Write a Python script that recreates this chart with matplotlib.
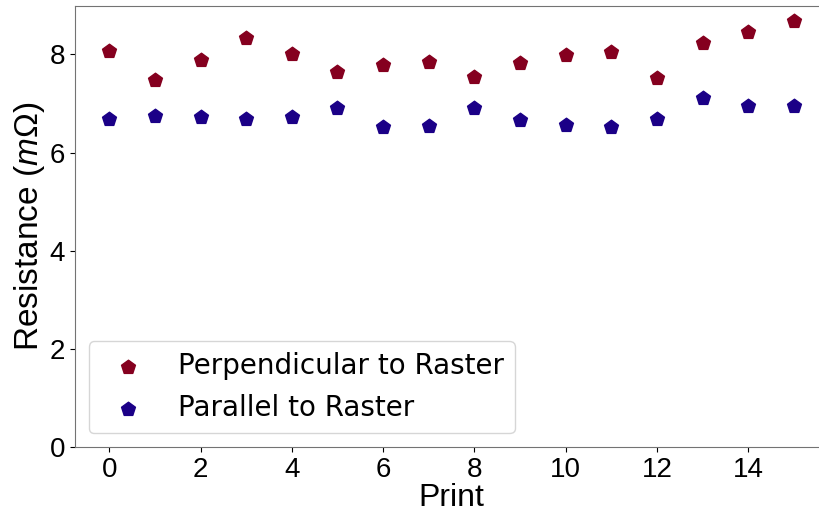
import numpy as np
import matplotlib
matplotlib.use("Agg")
import matplotlib.pyplot as plt

plt.rcParams['font.family'] = ['Liberation Sans', 'DejaVu Sans']
plt.rcParams['mathtext.fontset'] = 'custom'
plt.rcParams['mathtext.rm'] = 'Liberation Sans'
plt.rcParams['mathtext.it'] = 'Liberation Sans:italic'

prints = np.arange(16)
perpendicular = [8.07, 7.47, 7.89, 8.33, 8.01, 7.64, 7.79, 7.84,
                 7.54, 7.83, 7.98, 8.04, 7.51, 8.23, 8.45, 8.68]
parallel = [6.69, 6.75, 6.73, 6.69, 6.72, 6.90, 6.53, 6.54,
            6.90, 6.67, 6.57, 6.53, 6.69, 7.11, 6.95, 6.96]

fig = plt.figure(figsize=(8.19, 5.13), dpi=100)
# axes run a bit past the right edge, as in the cropped original
ax = fig.add_axes([75 / 819, (513 - 447.3) / 513, 753 / 819, 441 / 513])

ax.scatter(prints, perpendicular, marker='p', s=110, color='#85001f',
           label='Perpendicular to Raster')
ax.scatter(prints, parallel, marker='p', s=110, color='#1b0087',
           label='Parallel to Raster')

ax.set_xlim(-0.75, 15.75)
ax.set_ylim(0, 8.98)
ax.set_xticks(np.arange(0, 16, 2))
ax.set_yticks(np.arange(0, 9, 2))
ax.tick_params(labelsize=20, colors='black')
for sp in ax.spines.values():
    sp.set_color('0.45')

ax.set_xlabel('Print', fontsize=23, labelpad=0)
ax.set_ylabel(r'Resistance ($m\Omega$)', fontsize=24, labelpad=2)

ax.legend(loc='lower left', prop={'family': 'DejaVu Sans', 'size': 20})

fig.savefig('out.png', dpi=100)
